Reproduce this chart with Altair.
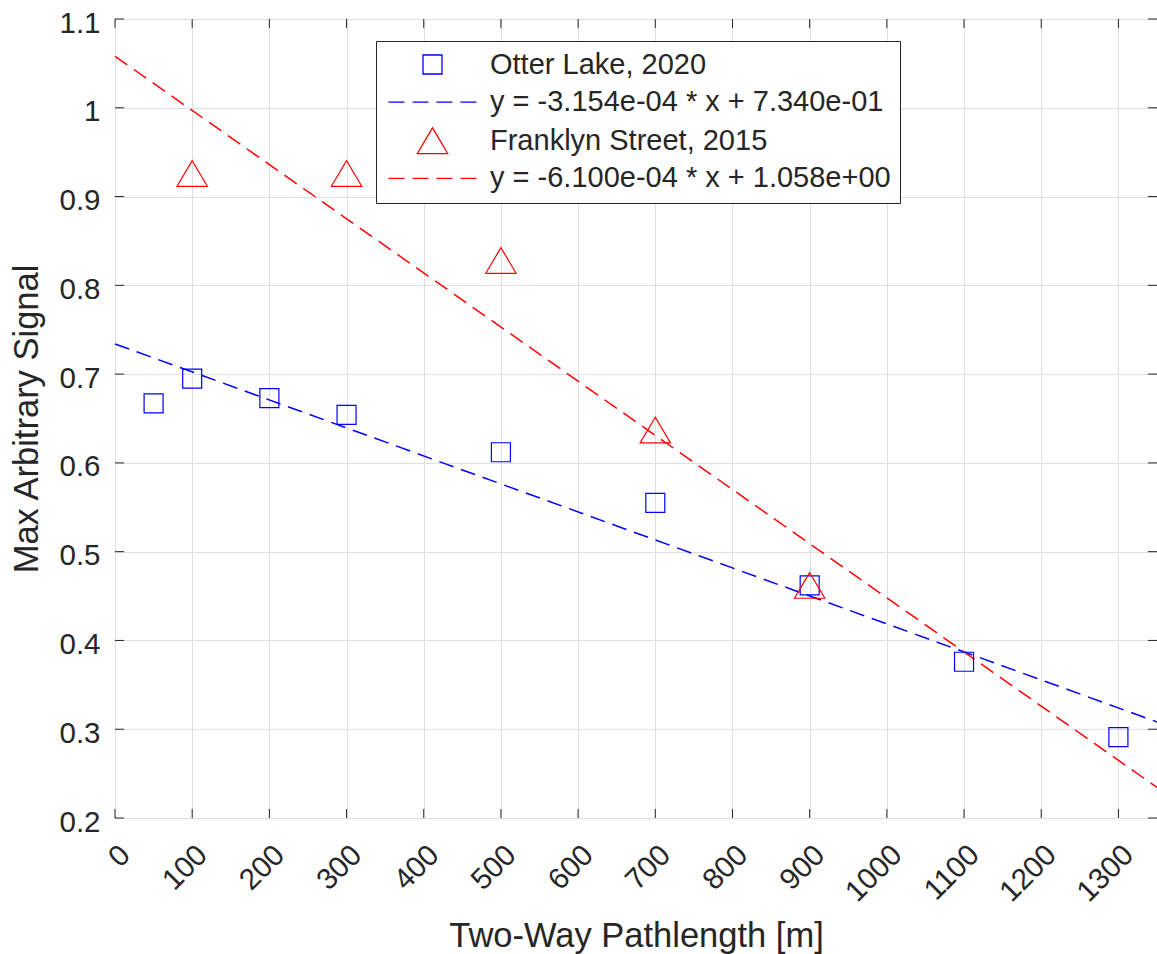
import altair as alt
import pandas as pd

# ---------------- data ----------------
otter_x = [50, 100, 200, 300, 500, 700, 900, 1100, 1300]
otter_y = [0.667, 0.695, 0.673, 0.654, 0.612, 0.555, 0.462, 0.376, 0.291]

frank_x = [100, 300, 500, 700, 900]
frank_y = [0.926, 0.926, 0.828, 0.637, 0.462]

fit_slope = [-3.154e-04, -6.100e-04]
fit_icpt = [7.340e-01, 1.058e+00]
fit_x = [0, 1350]

series = ["Otter Lake, 2020", "Franklyn Street, 2015"]
fit_labels = ["y = -3.154e-04 * x + 7.340e-01", "y = -6.100e-04 * x + 1.058e+00"]
legend_order = [series[0], fit_labels[0], series[1], fit_labels[1]]
colors = ["#0000FF", "#0000FF", "#FF0000", "#FF0000"]

x_ticks = [0, 100, 200, 300, 400, 500, 600, 700, 800, 900, 1000, 1100, 1200, 1300]
y_ticks = [0.2, 0.3, 0.4, 0.5, 0.6, 0.7, 0.8, 0.9, 1.0, 1.1]

# ---------------- layout / style ----------------
W, H = 1042, 799
FONT = "Liberation Sans"
INK = "#262626"
TICK_LEN = 9

SQUARE = "M-1,-1H1V1H-1Z"
TRIANGLE = "M0,-1.35L-1.6,1.35L1.6,1.35Z"
DASH = "M-4.63,0H-2.95M-2.1,0H-0.42M0.42,0H2.1M2.95,0H4.63"
shapes = [SQUARE, DASH, TRIANGLE, DASH]

pts = pd.DataFrame(
    {"x": otter_x + frank_x,
     "y": otter_y + frank_y,
     "s": [series[0]] * len(otter_x) + [series[1]] * len(frank_x)}
)

fit_rows = []
for m, b, lab in zip(fit_slope, fit_icpt, fit_labels):
    for xv in fit_x:
        fit_rows.append({"x": xv, "y": m * xv + b, "s": lab})
fits = pd.DataFrame(fit_rows)

xt = pd.DataFrame({"x": x_ticks})
yt = pd.DataFrame({"y": y_ticks})

xscale = alt.Scale(domain=[0, 1350], nice=False, zero=False)
yscale = alt.Scale(domain=[0.2, 1.1], nice=False, zero=False)
cscale = alt.Scale(domain=legend_order, range=colors)
sscale = alt.Scale(domain=legend_order, range=shapes)

x_axis = alt.Axis(
    values=x_ticks, format="d", title="Two-Way Pathlength [m]",
    labelAngle=-45, labelAlign="right", labelBaseline="top",
    labelPadding=22, titleY=128, titleBaseline="alphabetic",
)
y_axis = alt.Axis(
    values=y_ticks, format="~f", title="Max Arbitrary Signal",
    labelPadding=15, labelOffset=4, titleX=-78, titleY=H / 2,
    titleAngle=270, titleAlign="center", titleBaseline="alphabetic",
)

X = alt.X("x:Q", scale=xscale, axis=x_axis)
Y = alt.Y("y:Q", scale=yscale, axis=y_axis)

legend = alt.Legend(
    title=None, orient="none", legendX=261, legendY=22,
    padding=9, strokeColor=INK, fillColor="white",
    labelFont=FONT, labelFontSize=29, labelColor=INK, labelLimit=1000,
    labelOffset=43, symbolOffset=33, symbolSize=361, symbolStrokeWidth=1.3,
    rowPadding=7.6, values=legend_order,
)

points = alt.Chart(pts).mark_point(filled=False, strokeWidth=1.2, size=361, opacity=1).encode(
    x=X, y=Y,
    color=alt.Color("s:N", scale=cscale, legend=legend),
    shape=alt.Shape("s:N", scale=sscale, legend=legend),
)

fit_blue = alt.Chart(fits).transform_filter(
    alt.datum.s == fit_labels[0]
).mark_line(strokeDash=[15, 8], strokeWidth=1.5, color=colors[1]).encode(x=X, y=Y)

fit_red = alt.Chart(fits).transform_filter(
    alt.datum.s == fit_labels[1]
).mark_line(strokeDash=[15, 8], strokeWidth=1.5, color=colors[3]).encode(x=X, y=Y)

# inward tick marks on all four sides
xt_bottom = alt.Chart(xt).mark_rule(color=INK, strokeWidth=1).encode(
    x=X, y=alt.value(H), y2=alt.value(H - TICK_LEN))
xt_top = alt.Chart(xt).mark_rule(color=INK, strokeWidth=1).encode(
    x=X, y=alt.value(0), y2=alt.value(TICK_LEN))
yt_left = alt.Chart(yt).mark_rule(color=INK, strokeWidth=1).encode(
    y=Y, x=alt.value(0), x2=alt.value(TICK_LEN))
yt_right = alt.Chart(yt).mark_rule(color=INK, strokeWidth=1).encode(
    y=Y, x=alt.value(W), x2=alt.value(W - TICK_LEN))

chart = (
    alt.layer(fit_blue, fit_red, points, xt_bottom, xt_top, yt_left, yt_right)
    .properties(
        width=W, height=H,
        autosize=alt.AutoSizeParams(type="none"),
        padding={"left": 115, "top": 19, "right": 0, "bottom": 136},
        background="white",
    )
    .configure_view(stroke=INK, strokeWidth=1)
    .configure_axis(
        grid=True, gridColor="#DFDFDF", gridWidth=1,
        ticks=False, tickSize=0, domain=False,
        labelFont=FONT, labelFontSize=29.5, labelColor=INK,
        titleFont=FONT, titleFontSize=34.5, titleColor=INK, titleFontWeight="normal",
    )
)

chart.save("out.html", embed_options={"renderer": "svg", "actions": False})
